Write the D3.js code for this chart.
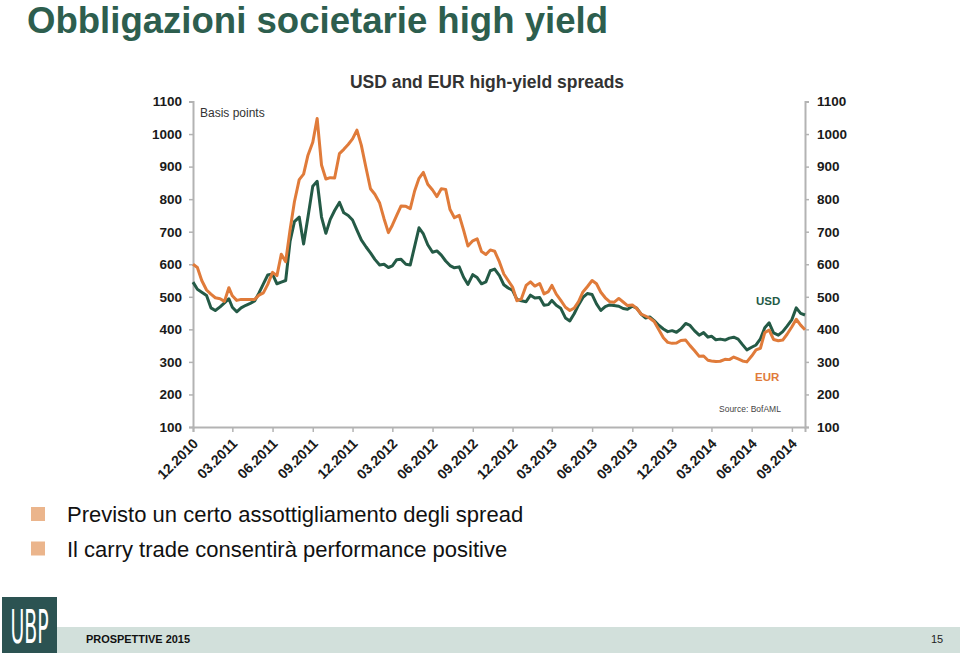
<!DOCTYPE html>
<html><head><meta charset="utf-8">
<script src="https://cdn.jsdelivr.net/npm/d3@7/dist/d3.min.js"></script>
<style>body{margin:0;background:#fff}svg{display:block;font-family:"Liberation Sans",Arial,sans-serif}</style>
</head><body>
<svg id="c" width="960" height="654"></svg>
<script>
// ---- data ----
const tickLabels = ["12.2010","03.2011","06.2011","09.2011","12.2011","03.2012","06.2012","09.2012",
  "12.2012","03.2013","06.2013","09.2013","12.2013","03.2014","06.2014","09.2014"];
const yTicks = [100,200,300,400,500,600,700,800,900,1000,1100];
// observations on the 1st, 11th and 21st of each month, Dec 2010 – Oct 2014
const usd = [545,523,514, 504,466,458, 469,481,494, 468,454,466, 474,480,487, 512,540,567,
  570,540,545, 550,670,731, 745,662,745, 840,855,745, 695,738,765, 790,758,750,
  736,705,675, 653,635,615, 598,600,590, 595,614,615, 600,598,655, 712,693,660,
  637,641,628, 610,596,589, 592,560,538, 568,559,540, 546,580,585, 565,537,527,
  520,492,488, 485,505,496, 498,474,476, 489,474,465, 435,426,448, 475,498,510,
  507,478,458, 470,475,473, 471,464,462, 471,465,447, 435,438,427, 412,401,393,
  396,391,401, 418,412,396, 382,390,376, 379,368,370, 367,373,376, 370,353,337,
  345,352,371, 405,420,389, 382,393,410, 430,466,449, 444];
const eur = [600,590,550, 521,508,497, 494,486,528, 503,489,492, 492,492,492, 505,512,538,
  575,565,631, 608,705,792, 860,877,935, 975,1048,905, 862,866,865, 940,953,968,
  985,1012,966, 895,832,815, 788,740,697, 720,750,779, 778,771,825, 864,882,846,
  828,808,832, 830,768,743, 750,705,656, 672,678,639, 630,644,640, 607,570,550,
  530,488,493, 535,546,533, 541,509,516, 535,508,490, 468,458,465, 485,515,531,
  550,540,514, 497,485,483, 495,484,473, 475,464,447, 441,434,424, 398,374,360,
  357,358,366, 367,350,335, 317,318,305, 303,301,302, 308,307,315, 309,303,300,
  318,337,342, 390,398,369, 365,367,385, 408,431,413, 399];
const dates = usd.map((_, i) => new Date(2010, 11 + Math.floor(i / 3), 1 + 10 * (i % 3)));
const tickDates = tickLabels.map(s => { const [m, y] = s.split("."); return new Date(+y, +m - 1, 1); });
const bullets = ["Previsto un certo assottigliamento degli spread",
  "Il carry trade consentirà performance positive"];

// ---- drawing ----
const svg = d3.select("#c");
const GREEN = "#245a46", ORANGE = "#e07b3a", AXIS = "#b3b3b3";

const x = d3.scaleTime().domain([dates[0], dates[dates.length - 1]]).range([193, 805]);
const y = d3.scaleLinear().domain([100, 1100]).range([427, 101.5]);

// title
svg.append("text").attr("x", 27).attr("y", 33).attr("font-size", 37).attr("font-weight", "bold")
  .attr("fill", "#2d5e4e").attr("textLength", 581).attr("lengthAdjust", "spacingAndGlyphs")
  .text("Obbligazioni societarie high yield");
svg.append("text").attr("x", 487).attr("y", 88).attr("text-anchor", "middle").attr("font-size", 17.5)
  .attr("font-weight", "bold").attr("fill", "#333").text("USD and EUR high-yield spreads");

// axes
const yl = svg.append("g").attr("transform", "translate(193,0)")
  .call(d3.axisLeft(y).tickValues(yTicks).tickSize(4).tickPadding(7).tickFormat(d3.format("d")));
const yr = svg.append("g").attr("transform", "translate(805,0)")
  .call(d3.axisRight(y).tickValues(yTicks).tickSize(4).tickPadding(8).tickFormat(d3.format("d")));
const xa = svg.append("g").attr("transform", "translate(0,427)")
  .call(d3.axisBottom(x).tickValues(tickDates).tickSize(5).tickFormat((d, i) => tickLabels[i]));
[yl, yr, xa].forEach(g => {
  g.select(".domain").attr("stroke", AXIS).attr("stroke-width", 2);
  g.selectAll(".tick line").attr("stroke", AXIS).attr("stroke-width", 1.5);
  g.selectAll("text").attr("font-family", "Liberation Sans, Arial, sans-serif")
    .attr("font-weight", "bold").attr("font-size", 13.5).attr("fill", "#1a1a1a");
});
xa.selectAll(".tick text").attr("text-anchor", "end").attr("y", 0).attr("dy", "0.35em")
  .attr("font-size", 14).attr("transform", "translate(2,14) rotate(-45)");

svg.append("text").attr("x", 200).attr("y", 117).attr("font-size", 12).attr("fill", "#333").text("Basis points");

// lines
const line = d3.line().x((d, i) => x(dates[i])).y(d => y(d)).curve(d3.curveLinear);
svg.append("path").datum(usd).attr("d", line).attr("fill", "none").attr("stroke", GREEN)
  .attr("stroke-width", 3).attr("stroke-linejoin", "round");
svg.append("path").datum(eur).attr("d", line).attr("fill", "none").attr("stroke", ORANGE)
  .attr("stroke-width", 3).attr("stroke-linejoin", "round");

svg.append("text").attr("x", 756).attr("y", 305).attr("font-size", 11.5).attr("font-weight", "bold")
  .attr("fill", GREEN).text("USD");
svg.append("text").attr("x", 755).attr("y", 381).attr("font-size", 11.5).attr("font-weight", "bold")
  .attr("fill", ORANGE).text("EUR");
svg.append("text").attr("x", 719).attr("y", 412).attr("font-size", 8.5).attr("fill", "#444").text("Source: BofAML");

// bullets
const bl = svg.append("g").selectAll("g").data(bullets).join("g")
  .attr("transform", (d, i) => `translate(0,${i * 34.5})`);
bl.append("rect").attr("x", 31).attr("y", 507).attr("width", 14).attr("height", 14).attr("fill", "#ebb58c");
bl.append("text").attr("x", 67).attr("y", 522).attr("font-size", 22).attr("fill", "#111").text(d => d);

// footer
svg.append("rect").attr("x", 57).attr("y", 627).attr("width", 903).attr("height", 26).attr("fill", "#d2e0db");
svg.append("rect").attr("x", 2).attr("y", 597).attr("width", 55).attr("height", 56).attr("fill", "#2c5352");
svg.append("text").attr("transform", "translate(29.5,643) scale(1,2.2)").attr("text-anchor", "middle")
  .attr("font-size", 21).attr("fill", "#fff").attr("font-family", "DejaVu Sans Condensed, DejaVu Sans, sans-serif")
  .attr("font-weight", "200").text("UBP");
svg.append("text").attr("x", 86).attr("y", 643).attr("font-size", 11).attr("font-weight", "bold")
  .attr("fill", "#111").attr("textLength", 104).attr("lengthAdjust", "spacingAndGlyphs").text("PROSPETTIVE 2015");
svg.append("text").attr("x", 931).attr("y", 643).attr("font-size", 11).attr("fill", "#222").text("15");
</script>
</body></html>
